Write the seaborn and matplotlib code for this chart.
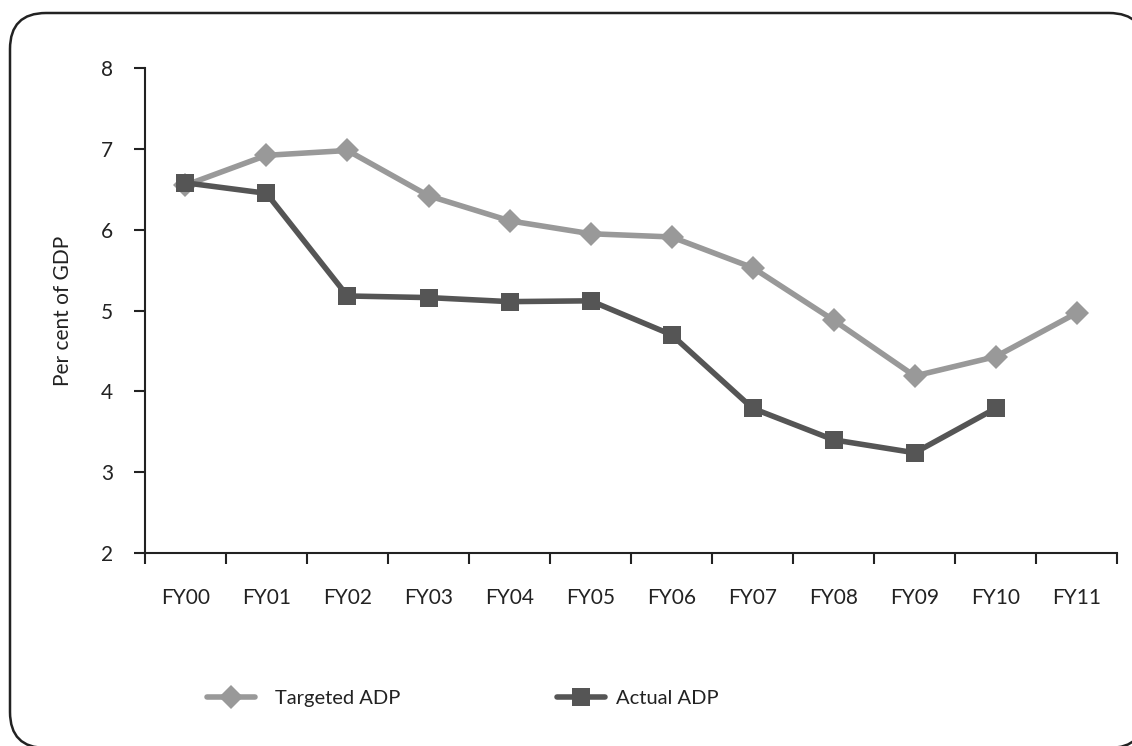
import numpy as np
import pandas as pd
import matplotlib
matplotlib.use("Agg")
import matplotlib.pyplot as plt
import seaborn as sns
from matplotlib.patches import FancyBboxPatch
from matplotlib.lines import Line2D
from matplotlib.transforms import IdentityTransform

categories = ["FY00", "FY01", "FY02", "FY03", "FY04", "FY05", "FY06",
              "FY07", "FY08", "FY09", "FY10", "FY11"]
targeted = [6.55, 6.92, 6.98, 6.42, 6.11, 5.95, 5.91, 5.53, 4.88, 4.19, 4.43, 4.97]
actual = [6.58, 6.45, 5.18, 5.16, 5.11, 5.12, 4.70, 3.79, 3.40, 3.24, 3.79, np.nan]
y_ticks = [2, 3, 4, 5, 6, 7, 8]

sns.set_theme(style="white")
plt.rcParams["font.family"] = ["Lato", "DejaVu Sans"]

c_target = "#999999"
c_actual = "#555555"
c_text = "#222222"

fig = plt.figure(figsize=(11.32, 7.46), dpi=100)
ax = fig.add_axes([0.128, 0.2587, 0.859, 0.6501])
ax.patch.set_alpha(0)

pos = np.arange(len(categories))
df = pd.DataFrame({"pos": pos, "Targeted ADP": targeted, "Actual ADP": actual})

sns.lineplot(data=df, x="pos", y="Targeted ADP", ax=ax, color=c_target,
             linewidth=4, marker="D", markersize=12, markeredgewidth=0)
sns.lineplot(data=df.dropna(), x="pos", y="Actual ADP", ax=ax, color=c_actual,
             linewidth=4, marker="s", markersize=13, markeredgewidth=0)

ax.set_xlim(-0.5, len(categories) - 0.5)
ax.set_ylim(2, 8)
ax.set_yticks(y_ticks)
ax.set_yticklabels([str(v) for v in y_ticks], fontsize=15, color=c_text)
ax.set_xticks(np.arange(-0.5, len(categories), 1.0))
ax.set_xticklabels([])
ax.set_xticks(pos, minor=True)
ax.set_xticklabels(categories, minor=True, fontsize=15, color=c_text)
ax.tick_params(axis="x", which="minor", length=0, pad=25)
ax.tick_params(axis="x", which="major", direction="out", length=8, width=1.5, color=c_text, bottom=True)
ax.tick_params(axis="y", direction="out", length=8, width=1.5, color=c_text, left=True, pad=15)
ax.set_xlabel("")
ax.set_ylabel("Per cent of GDP", fontsize=15, color=c_text, labelpad=20)

for s in ["top", "right"]:
    ax.spines[s].set_visible(False)
for s in ["left", "bottom"]:
    ax.spines[s].set_color(c_text)
    ax.spines[s].set_linewidth(1.5)

h_t = Line2D([], [], color=c_target, linewidth=4, marker="D", markersize=12, markeredgewidth=0)
h_a = Line2D([], [], color=c_actual, linewidth=4, marker="s", markersize=13, markeredgewidth=0)
leg1 = fig.legend([h_t], ["Targeted ADP"], loc="center left",
                  bbox_to_anchor=(207 / 1132, 1 - 698 / 746), frameon=False, fontsize=14.5,
                  handlelength=2.4, handletextpad=1.0, borderpad=0, borderaxespad=0)
leg2 = fig.legend([h_a], ["Actual ADP"], loc="center left",
                  bbox_to_anchor=(557 / 1132, 1 - 698 / 746), frameon=False, fontsize=14.5,
                  handlelength=2.4, handletextpad=0.55, borderpad=0, borderaxespad=0)
for leg in (leg1, leg2):
    for t in leg.get_texts():
        t.set_color(c_text)

frame = FancyBboxPatch((10, -2), 1135, 735,
                       boxstyle="round,pad=0,rounding_size=36",
                       transform=IdentityTransform(), fill=True, facecolor="white",
                       edgecolor="#222222", linewidth=1.8, zorder=-5)
fig.patches.append(frame)

fig.savefig("out.png", dpi=100)
